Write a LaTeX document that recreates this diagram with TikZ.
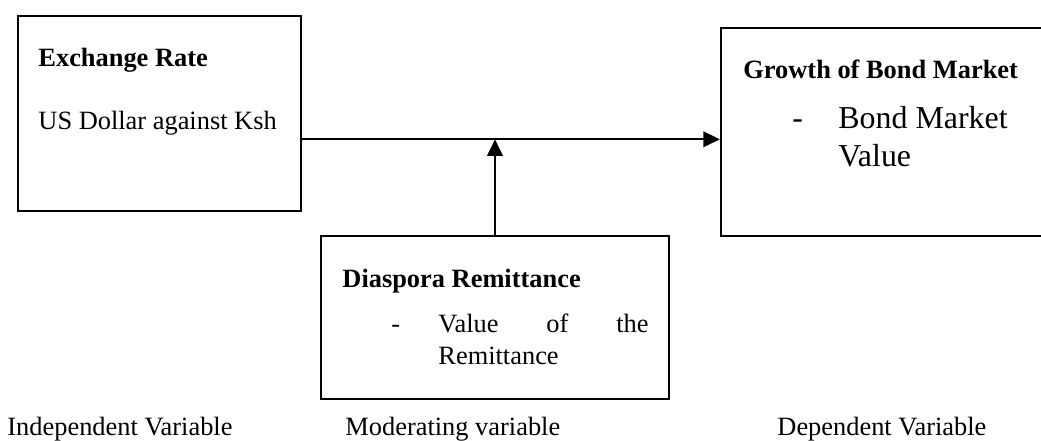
\documentclass[tikz,border=0pt]{standalone}
\usepackage{fontspec}
\setmainfont{Liberation Serif}
\usetikzlibrary{arrows.meta}
\begin{document}
\begin{tikzpicture}[x=0.4545pt,y=-0.4545pt,
  box/.style={draw,line width=1pt,inner sep=0pt},
  lbl/.style={anchor=base west,inner sep=0pt,font=\fontsize{12}{14}\selectfont},
  big/.style={anchor=base west,inner sep=0pt,font=\fontsize{14.5}{17}\selectfont},
  conn/.style={line width=1pt,-{Triangle[length=7.5pt,width=7pt]}}]
\useasboundingbox (0,0) rectangle (1041,441);
% boxes
\node[box,minimum width=128.6pt,minimum height=88.6pt] (indep) at (159.5,113.5) {};
\node[box,minimum width=147.7pt,minimum height=94.5pt] (dep) at (883.5,132) {};
\node[box,minimum width=158.2pt,minimum height=74.1pt] (mod) at (495,317.5) {};
% left box text
\node[lbl] (t1) at (38,67) {\textbf{Exchange Rate}};
\node[lbl] (t2) at (38,130) {US Dollar against Ksh};
% right box text
\node[lbl] (t3) at (743,79) {\textbf{Growth of Bond Market}};
\node[big] (t4) at (792,129) {-};
\node[big] (t5) at (838,129) {Bond Market};
\node[big] (t6) at (838,167) {Value};
% middle box text
\node[lbl] (t7) at (342,288) {\textbf{Diaspora Remittance}};
\node[lbl] (t8) at (391,333) {-};
\node[lbl] (t9) at (438,333) {\hbox to 95.5pt{Value\hfill of\hfill the}};
\node[lbl] (t10) at (438,365) {Remittance};
% bottom labels
\node[lbl] (b1) at (7,436) {Independent Variable};
\node[lbl] (b2) at (345,436) {Moderating variable};
\node[lbl] (b3) at (777,436) {Dependent Variable};
% connectors
\coordinate (hy) at (0,139.3);
\draw[conn] (indep.east |- hy) -- (dep.west |- hy);
\draw[conn] (mod.north) -- (mod.north |- hy);
\end{tikzpicture}
\end{document}
